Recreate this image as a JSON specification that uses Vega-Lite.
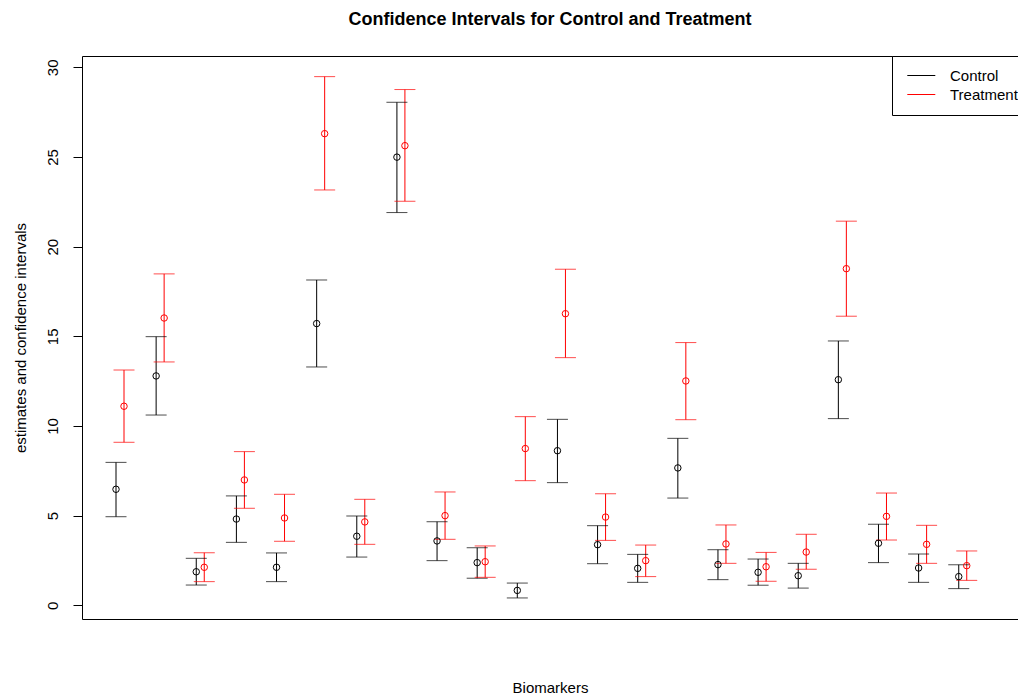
{
  "$schema": "https://vega.github.io/schema/vega-lite/v6.json",
  "width": 936,
  "height": 563,
  "autosize": {"type": "none"},
  "padding": {"left": 82, "top": 56, "right": 0, "bottom": 77},
  "background": "white",
  "config": {
    "font": "Liberation Sans",
    "view": {"stroke": null},
    "axis": {
      "domainColor": "black",
      "domainWidth": 1,
      "tickColor": "black",
      "labelColor": "black",
      "titleColor": "black",
      "labelFont": "Liberation Sans",
      "titleFont": "Liberation Sans",
      "labelFontSize": 15,
      "titleFontSize": 15,
      "titleFontWeight": "normal",
      "grid": false
    }
  },
  "title": {
    "text": "Confidence Intervals for Control and Treatment",
    "font": "Liberation Sans",
    "fontSize": 18,
    "fontWeight": "bold",
    "color": "black",
    "anchor": "middle",
    "offset": 27
  },
  "data": {
    "values": [
      {"biomarker": 1, "group": "Control", "est": 6.47, "lower": 4.94, "upper": 7.97},
      {"biomarker": 1, "group": "Treatment", "est": 11.10, "lower": 9.09, "upper": 13.12},
      {"biomarker": 2, "group": "Control", "est": 12.79, "lower": 10.61, "upper": 14.98},
      {"biomarker": 2, "group": "Treatment", "est": 16.02, "lower": 13.57, "upper": 18.48},
      {"biomarker": 3, "group": "Control", "est": 1.87, "lower": 1.13, "upper": 2.62},
      {"biomarker": 3, "group": "Treatment", "est": 2.12, "lower": 1.32, "upper": 2.93},
      {"biomarker": 4, "group": "Control", "est": 4.81, "lower": 3.51, "upper": 6.10},
      {"biomarker": 4, "group": "Treatment", "est": 6.99, "lower": 5.41, "upper": 8.57},
      {"biomarker": 5, "group": "Control", "est": 2.12, "lower": 1.32, "upper": 2.92},
      {"biomarker": 5, "group": "Treatment", "est": 4.87, "lower": 3.57, "upper": 6.19},
      {"biomarker": 6, "group": "Control", "est": 15.71, "lower": 13.29, "upper": 18.14},
      {"biomarker": 6, "group": "Treatment", "est": 26.30, "lower": 23.16, "upper": 29.48},
      {"biomarker": 7, "group": "Control", "est": 3.85, "lower": 2.69, "upper": 4.98},
      {"biomarker": 7, "group": "Treatment", "est": 4.65, "lower": 3.40, "upper": 5.91},
      {"biomarker": 8, "group": "Control", "est": 24.99, "lower": 21.90, "upper": 28.05},
      {"biomarker": 8, "group": "Treatment", "est": 25.63, "lower": 22.53, "upper": 28.76},
      {"biomarker": 9, "group": "Control", "est": 3.59, "lower": 2.49, "upper": 4.66},
      {"biomarker": 9, "group": "Treatment", "est": 5.00, "lower": 3.68, "upper": 6.32},
      {"biomarker": 10, "group": "Control", "est": 2.38, "lower": 1.51, "upper": 3.21},
      {"biomarker": 10, "group": "Treatment", "est": 2.43, "lower": 1.56, "upper": 3.31},
      {"biomarker": 11, "group": "Control", "est": 0.83, "lower": 0.41, "upper": 1.24},
      {"biomarker": 11, "group": "Treatment", "est": 8.74, "lower": 6.95, "upper": 10.52},
      {"biomarker": 12, "group": "Control", "est": 8.62, "lower": 6.84, "upper": 10.37},
      {"biomarker": 12, "group": "Treatment", "est": 16.26, "lower": 13.81, "upper": 18.74},
      {"biomarker": 13, "group": "Control", "est": 3.38, "lower": 2.32, "upper": 4.44},
      {"biomarker": 13, "group": "Treatment", "est": 4.92, "lower": 3.62, "upper": 6.22},
      {"biomarker": 14, "group": "Control", "est": 2.06, "lower": 1.28, "upper": 2.84},
      {"biomarker": 14, "group": "Treatment", "est": 2.49, "lower": 1.60, "upper": 3.36},
      {"biomarker": 15, "group": "Control", "est": 7.66, "lower": 5.98, "upper": 9.31},
      {"biomarker": 15, "group": "Treatment", "est": 12.51, "lower": 10.35, "upper": 14.65},
      {"biomarker": 16, "group": "Control", "est": 2.27, "lower": 1.43, "upper": 3.10},
      {"biomarker": 16, "group": "Treatment", "est": 3.42, "lower": 2.34, "upper": 4.48},
      {"biomarker": 17, "group": "Control", "est": 1.84, "lower": 1.12, "upper": 2.58},
      {"biomarker": 17, "group": "Treatment", "est": 2.15, "lower": 1.34, "upper": 2.95},
      {"biomarker": 18, "group": "Control", "est": 1.65, "lower": 0.96, "upper": 2.34},
      {"biomarker": 18, "group": "Treatment", "est": 2.97, "lower": 2.01, "upper": 3.96},
      {"biomarker": 19, "group": "Control", "est": 12.58, "lower": 10.41, "upper": 14.74},
      {"biomarker": 19, "group": "Treatment", "est": 18.77, "lower": 16.12, "upper": 21.42},
      {"biomarker": 20, "group": "Control", "est": 3.46, "lower": 2.38, "upper": 4.52},
      {"biomarker": 20, "group": "Treatment", "est": 4.96, "lower": 3.64, "upper": 6.26},
      {"biomarker": 21, "group": "Control", "est": 2.08, "lower": 1.28, "upper": 2.86},
      {"biomarker": 21, "group": "Treatment", "est": 3.40, "lower": 2.34, "upper": 4.46},
      {"biomarker": 22, "group": "Control", "est": 1.60, "lower": 0.93, "upper": 2.26},
      {"biomarker": 22, "group": "Treatment", "est": 2.21, "lower": 1.39, "upper": 3.03}
    ]
  },
  "layer": [
    {
      "mark": {"type": "rule", "strokeWidth": 1},
      "encoding": {
        "x": {
          "field": "biomarker", "type": "ordinal",
          "scale": {"type": "band", "domain": [1,2,3,4,5,6,7,8,9,10,11,12,13,14,15,16,17,18,19,20,21,22], "paddingInner": 0, "paddingOuter": 0.662, "align": 0.64},
          "title": "Biomarkers",
          "axis": {"orient": "bottom", "labels": false, "ticks": false, "domain": true, "titlePadding": 61}
        },
        "xOffset": {"field": "group", "type": "nominal", "scale": {"type": "point", "domain": ["Control", "Treatment"], "range": [0, 8], "padding": 0}},
        "y": {
          "field": "lower", "type": "quantitative",
          "scale": {"domain": [-0.764, 30.63], "nice": false, "zero": false},
          "title": "estimates and confidence intervals",
          "axis": {"values": [0, 5, 10, 15, 20, 25, 30], "labelAngle": 270, "labelAlign": "center", "labelBaseline": "bottom", "tickSize": 9, "labelPadding": 13, "titlePadding": 17, "domain": true}
        },
        "y2": {"field": "upper"},
        "color": {
          "field": "group", "type": "nominal",
          "scale": {"domain": ["Control", "Treatment"], "range": ["#000000", "#ff0000"]},
          "legend": {
            "title": null,
            "orient": "none",
            "legendX": 810,
            "legendY": 0,
            "direction": "vertical",
            "strokeColor": "black",
            "fillColor": "white",
            "padding": 12,
            "symbolType": "M-0.6,0H3.4",
            "symbolSize": 196,
            "symbolStrokeWidth": 1,
            "labelFont": "Liberation Sans",
            "labelFontSize": 15,
            "labelColor": "black",
            "labelOffset": 31,
            "rowPadding": 3,
            "encode": {"symbols": {"update": {"stroke": {"scale": "color", "field": "value"}, "fill": {"value": "transparent"}}}}
          }
        }
      }
    },
    {
      "mark": {"type": "tick", "orient": "horizontal", "size": 21, "thickness": 1},
      "encoding": {
        "x": {"field": "biomarker", "type": "ordinal", "title": "Biomarkers", "axis": null,
          "scale": {"type": "band", "domain": [1,2,3,4,5,6,7,8,9,10,11,12,13,14,15,16,17,18,19,20,21,22], "paddingInner": 0, "paddingOuter": 0.662, "align": 0.64}},
        "xOffset": {"field": "group", "type": "nominal", "scale": {"type": "point", "domain": ["Control", "Treatment"], "range": [0, 8], "padding": 0}},
        "y": {"field": "lower", "type": "quantitative", "title": "estimates and confidence intervals"},
        "color": {"field": "group", "type": "nominal"}
      }
    },
    {
      "mark": {"type": "tick", "orient": "horizontal", "size": 21, "thickness": 1},
      "encoding": {
        "x": {"field": "biomarker", "type": "ordinal", "title": "Biomarkers", "axis": null,
          "scale": {"type": "band", "domain": [1,2,3,4,5,6,7,8,9,10,11,12,13,14,15,16,17,18,19,20,21,22], "paddingInner": 0, "paddingOuter": 0.662, "align": 0.64}},
        "xOffset": {"field": "group", "type": "nominal", "scale": {"type": "point", "domain": ["Control", "Treatment"], "range": [0, 8], "padding": 0}},
        "y": {"field": "upper", "type": "quantitative", "title": "estimates and confidence intervals"},
        "color": {"field": "group", "type": "nominal"}
      }
    },
    {
      "mark": {"type": "point", "shape": "circle", "filled": false, "size": 42, "strokeWidth": 1, "opacity": 1},
      "encoding": {
        "x": {"field": "biomarker", "type": "ordinal", "title": null,
          "scale": {"type": "band", "domain": [1,2,3,4,5,6,7,8,9,10,11,12,13,14,15,16,17,18,19,20,21,22], "paddingInner": 0, "paddingOuter": 0.662, "align": 0.64},
          "axis": {"orient": "top", "labels": false, "ticks": false, "domain": true, "title": null}},
        "xOffset": {"field": "group", "type": "nominal", "scale": {"type": "point", "domain": ["Control", "Treatment"], "range": [0, 8], "padding": 0}},
        "y": {"field": "est", "type": "quantitative", "title": "estimates and confidence intervals"},
        "color": {"field": "group", "type": "nominal"}
      }
    }
  ],
  "resolve": {"axis": {"x": "independent"}}
}
